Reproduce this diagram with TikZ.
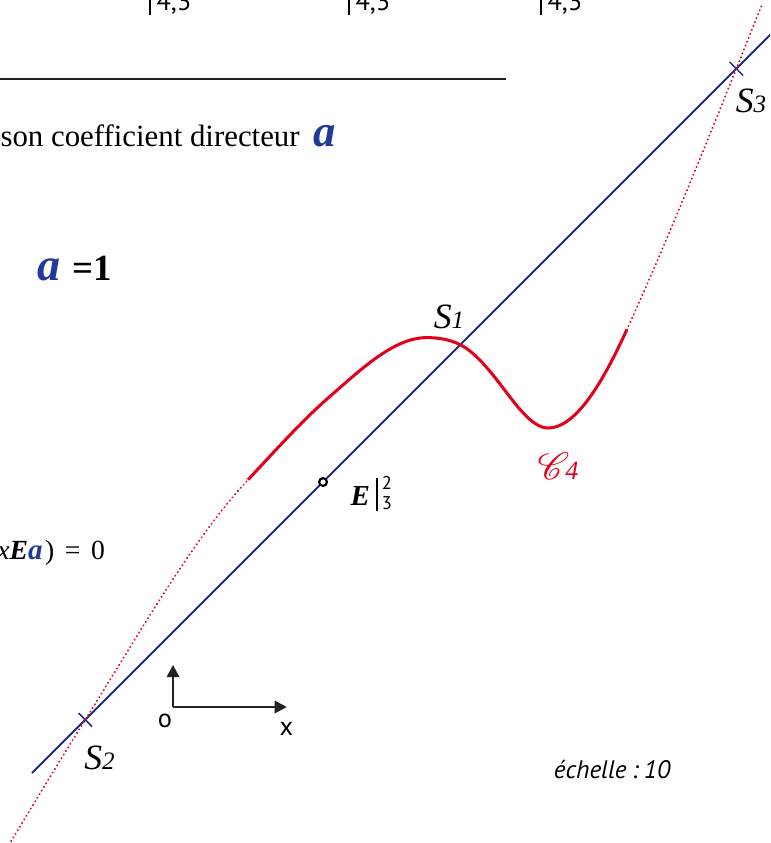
\documentclass[tikz,border=0pt]{standalone}
\usepackage{fontspec}
\setmainfont{Liberation Serif}
\setsansfont{PT Sans}
\usepackage{mathrsfs}
\usetikzlibrary{arrows.meta}
\definecolor{droiteblue}{HTML}{1E2D84}
\definecolor{coefblue}{HTML}{22389A}
\definecolor{courbered}{HTML}{E2001A}
\definecolor{reperegray}{HTML}{222222}

\begin{document}
\begin{tikzpicture}[
  line join=round,
  droite/.style={draw=droiteblue,line width=0.75pt},
  courbe/.style={draw=courbered,line width=1.15pt},
  prolong/.style={draw=courbered,line width=0.75pt,line cap=round,dash pattern=on 0.1pt off 1.5pt},
  repere/.style={draw=reperegray,line width=0.6pt,-{Triangle[length=4.6pt,width=4.8pt]}},
  filet/.style={draw=reperegray,line width=0.45pt},
  barre/.style={draw=black,line width=0.65pt},
  texte/.style={inner sep=0pt,font=\fontsize{11.7}{13}\selectfont},
  sommet/.style={inner sep=0pt,font=\fontsize{13.5}{15}\selectfont\itshape},
  chiffre/.style={inner sep=0pt,font=\sffamily\fontsize{10}{12}\selectfont},
  petitchiffre/.style={inner sep=0pt,font=\sffamily\fontsize{7}{7}\selectfont}
]
  \newcommand{\coef}[1]{\textcolor{coefblue}{\fontsize{#1}{#1}\selectfont\bfseries\itshape a}}
  \newcommand{\indice}[1]{{\fontsize{9.5}{9.5}\selectfont #1}}

  % Page cut-out: unit is 75 px of the figure, origin at O.
  \useasboundingbox (-2.307,-1.813) rectangle (7.96,9.427);
  \clip (-2.307,-1.813) rectangle (7.96,9.427);

  % Top of the page, cut off.
  \foreach \xb/\nom in {-0.307/va,2.347/vb,4.907/vc} {
    \draw[barre] (\xb,9.227) -- (\xb,9.6);
    \node[chiffre,anchor=base west] (\nom) at (\xb+0.08,9.29) {4,3};
  }
  \draw[filet] (-2.4,8.373) -- (4.44,8.373);

  % Texts on the left.
  \node[texte,anchor=base west] (phrase) at (-2.307,7.473) {son coefficient directeur\kern0.45em\coef{17}};
  \node[inner sep=0pt,anchor=base west] (valeur) at (-1.813,5.693)
    {\coef{17.5}\kern0.45em{\fontsize{14}{14}\selectfont\bfseries =1}};
  \node[inner sep=0pt,anchor=base west,font=\fontsize{10.5}{12}\selectfont] (equation) at (-2.35,1.973)
    {\textit{x}\textbf{\textit{E}}\coef{11}\kern1pt)\hspace{4pt}=\hspace{4pt}0};

  % Line of slope a through E.
  \coordinate (O) at (0,0);
  \coordinate (E) at (2,3);
  \coordinate (S1) at (3.83,4.83);
  \coordinate (S2) at (-1.17,-0.17);
  \coordinate (S3) at (7.51,8.51);
  \draw[droite] (-1.88,-0.88) -- (8.3,9.3);
  \foreach \s in {S2,S3} {
    \draw[draw=droiteblue,line width=0.55pt] ([shift={(-0.09,0.09)}]\s) -- ([shift={(0.09,-0.09)}]\s);
  }

  % Curve C4: dotted outside, solid between A and B.
  \coordinate (C0) at (-2.45,-2.27);
  \coordinate (A) at (1.0,3.03);
  \coordinate (B) at (6.05,5.03);
  \coordinate (C1) at (7.85,9.36);
  \draw[prolong] (C0) .. controls (-2.023,-1.566) and (-1.597,-0.853) .. (S2)
    .. controls (-0.447,0.987) and (0.277,2.256) .. (A);
  \draw[courbe] (A) .. controls (1.363,3.419) and (1.727,3.824) .. (2.09,4.14)
    .. controls (2.52,4.514) and (2.95,4.925) .. (3.38,4.925)
    .. controls (3.53,4.925) and (3.68,4.905) .. (S1)
    .. controls (4.003,4.743) and (4.177,4.545) .. (4.35,4.32)
    .. controls (4.567,4.038) and (4.783,3.72) .. (5.0,3.72)
    .. controls (5.35,3.72) and (5.70,4.26) .. (B);
  \draw[prolong] (B) .. controls (6.537,6.101) and (7.023,7.293) .. (S3) -- (C1);

  % Point E.
  \draw[draw=black,line width=0.85pt,fill=white] (E) circle[radius=0.052];
  \node[inner sep=0pt,anchor=base west,font=\fontsize{11}{12}\selectfont\bfseries\itshape] (Enom) at (2.36,2.693) {E};
  \draw[barre] (2.72,2.613) -- (2.72,3.053);
  \node[petitchiffre] (Ex) at (2.853,2.985) {2};
  \node[petitchiffre] (Ey) at (2.853,2.72) {3};

  % Labels of the intersections and of the curve.
  \node[sommet] (nS1) at (3.68,5.2) {S\indice{1}};
  \node[sommet] (nS2) at (-0.98,-0.68) {S\indice{2}};
  \node[sommet] (nS3) at (7.707,8.08) {S\indice{3}};
  \node[inner sep=0pt,text=courbered,font=\fontsize{14}{15}\selectfont] (nC4) at (5.133,3.213)
    {$\mathscr{C}$\kern-1.5pt{\fontsize{10}{10}\selectfont\itshape 4}};

  % Axes.
  \coordinate (xtip) at (1.516,0);
  \coordinate (ytip) at (0,0.56);
  \draw[repere] (O) -- (xtip);
  \draw[repere] (O) -- (ytip);
  \node[chiffre] (nO) at (-0.107,-0.187) {o};
  \node[chiffre] (nx) at (1.513,-0.287) {x};

  % Scale.
  \node[inner sep=0pt,anchor=base,font=\sffamily\itshape\fontsize{9.6}{12}\selectfont] (echelle) at (5.853,-0.947)
    {échelle\kern2pt:\kern2pt10};
\end{tikzpicture}
\end{document}
